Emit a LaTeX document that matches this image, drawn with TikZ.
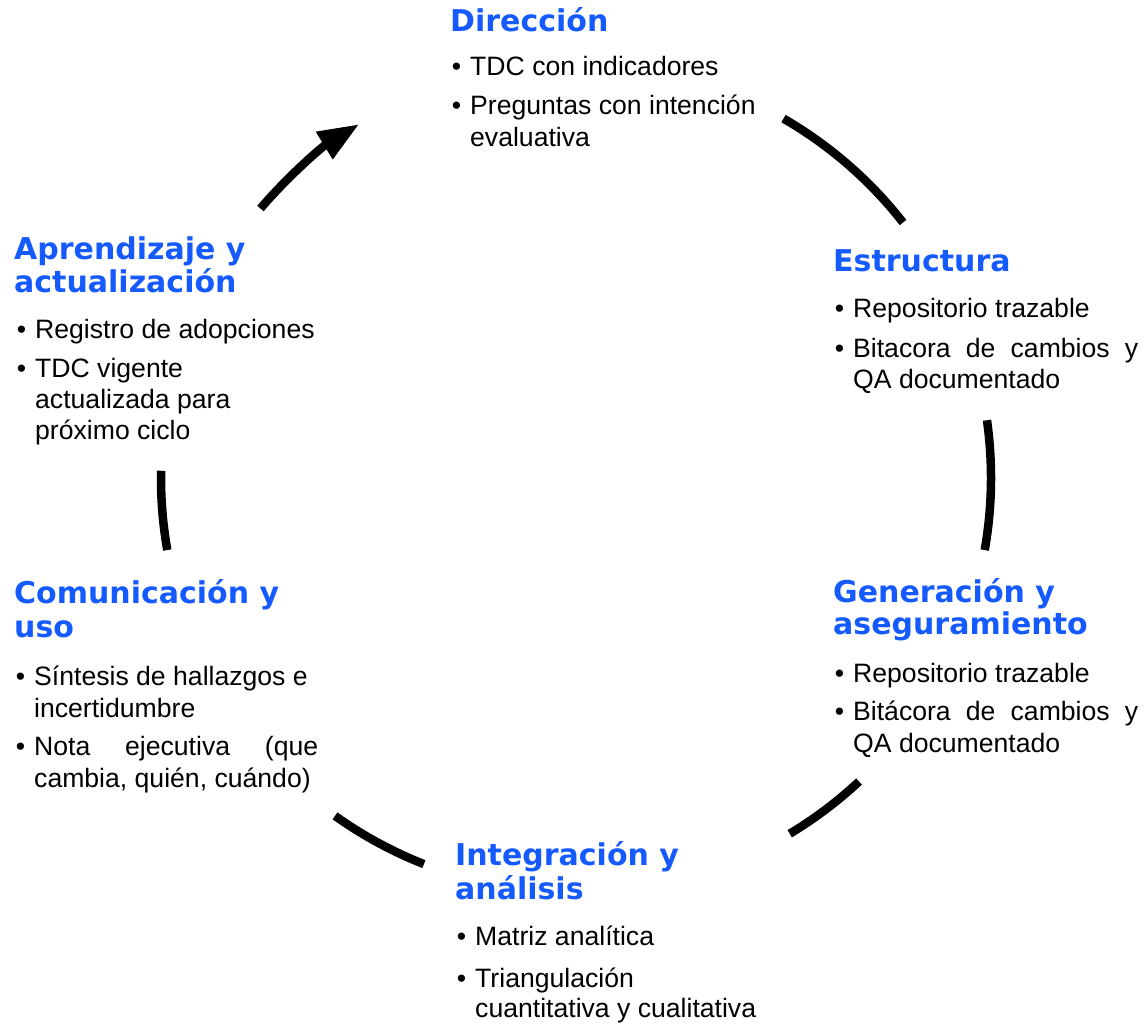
\documentclass[tikz,border=0pt]{standalone}
\usepackage{fontspec}
\setmainfont{Liberation Sans}
\newfontfamily\headfont{DejaVu Sans}
\usetikzlibrary{arrows.meta}
\definecolor{hblue}{HTML}{155AFF}
\newcommand\bul{\llap{\textbullet\hspace{9pt}}}
\newcommand\jline[2]{\makebox[#1][s]{#2}}
\tikzset{
  head/.style={anchor=base west, inner sep=0pt, text=hblue, font=\headfont\bfseries\fontsize{30}{34}\selectfont},
  body/.style={anchor=base west, inner sep=0pt, font=\fontsize{26.6}{32}\selectfont},
  cyc/.style={line width=8.5pt, line cap=butt},
}
\begin{document}
\begin{tikzpicture}[x=1pt,y=1pt]
\useasboundingbox (0,0) rectangle (1148,-1024);
% --- Dirección
\node[head] (dirH) at (450,-32) {Dirección};
\node[body] (dir1) at (470,-76) {\bul TDC con indicadores};
\node[body] (dir2) at (470,-115) {\bul Preguntas con intención};
\node[body] (dir2b) at (470,-147) {evaluativa};
% --- Estructura
\node[head] (estH) at (833,-272) {Estructura};
\node[body] (est1) at (853,-317) {\bul Repositorio trazable};
\node[body] (est2) at (853,-357) {\bul\jline{285pt}{Bitacora de cambios y}};
\node[body] (est2b) at (853,-388) {QA documentado};
% --- Generación
\node[head] (genH) at (833,-602) {Generación y};
\node[head] (genH2) at (833,-634) {aseguramiento};
\node[body] (gen1) at (853,-682) {\bul Repositorio trazable};
\node[body] (gen2) at (853,-720) {\bul\jline{285pt}{Bitácora de cambios y}};
\node[body] (gen2b) at (853,-752) {QA documentado};
% --- Integración
\node[head] (intH) at (455,-865) {Integración y};
\node[head] (intH2) at (455,-899) {análisis};
\node[body] (int1) at (475,-945) {\bul Matriz analítica};
\node[body] (int2) at (475,-987) {\bul Triangulación};
\node[body] (int2b) at (475,-1017) {cuantitativa y cualitativa};
% --- Comunicación
\node[head] (comH) at (14,-603) {Comunicación y};
\node[head] (comH2) at (14,-637) {uso};
\node[body] (com1) at (34,-685) {\bul Síntesis de hallazgos e};
\node[body] (com1b) at (34,-717) {incertidumbre};
\node[body] (com2) at (34,-755) {\bul\jline{284pt}{Nota ejecutiva (que}};
\node[body] (com2b) at (34,-787) {cambia, quién, cuándo)};
% --- Aprendizaje
\node[head] (aprH) at (14,-260) {Aprendizaje y};
\node[head] (aprH2) at (14,-292) {actualización};
\node[body] (apr1) at (35,-338) {\bul Registro de adopciones};
\node[body] (apr2) at (35,-377) {\bul TDC vigente};
\node[body] (apr2b) at (35,-408) {actualizada para};
\node[body] (apr2c) at (35,-439) {próximo ciclo};
% --- cycle arcs
\coordinate (c) at (576,-478);
\path (c) ++(60:415pt) coordinate (a1);
\path (c) ++(8:415pt) coordinate (a2);
\path (c) ++(-47:415pt) coordinate (a3);
\path (c) ++(-111.5:415pt) coordinate (a4);
\path (c) ++(190:415pt) coordinate (a5);
\path (c) ++(139.5:415pt) coordinate (a6);
\draw[cyc] (a1) arc[start angle=60, end angle=38, radius=415pt];
\draw[cyc] (a2) arc[start angle=8, end angle=-10, radius=415pt];
\draw[cyc] (a3) arc[start angle=-47, end angle=-59, radius=415pt];
\draw[cyc] (a4) arc[start angle=-111.5, end angle=-125.5, radius=415pt];
\draw[cyc] (a5) arc[start angle=190, end angle=179, radius=415pt];
\draw[cyc, -{Triangle[length=41pt, width=30pt]}] (a6) arc[start angle=139.5, end angle=121.5, radius=415pt];
\end{tikzpicture}
\end{document}
